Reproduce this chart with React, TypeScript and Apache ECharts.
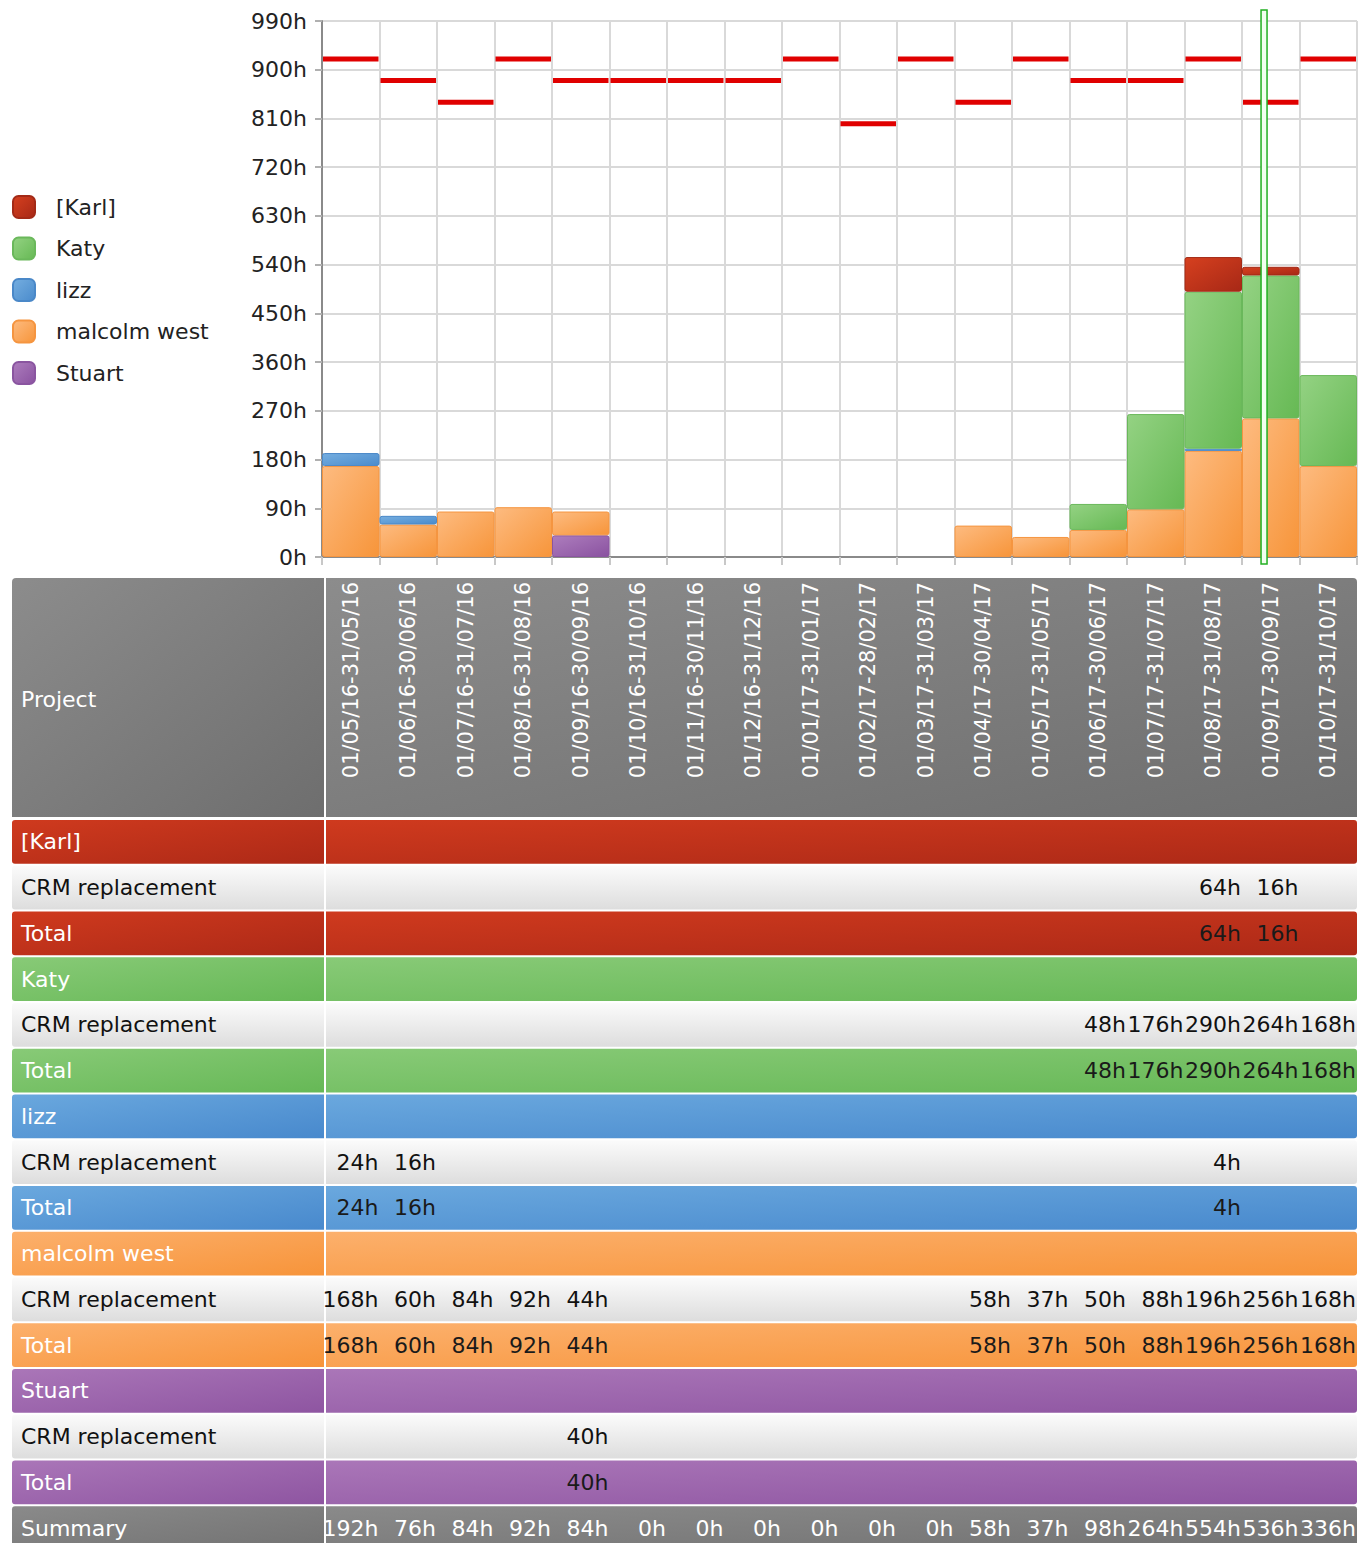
import React, { useEffect, useRef } from "react";
import * as echarts from "echarts";

// ---------- data ----------
const categories: string[] = [
  "01/05/16-31/05/16", "01/06/16-30/06/16", "01/07/16-31/07/16", "01/08/16-31/08/16",
  "01/09/16-30/09/16", "01/10/16-31/10/16", "01/11/16-30/11/16", "01/12/16-31/12/16",
  "01/01/17-31/01/17", "01/02/17-28/02/17", "01/03/17-31/03/17", "01/04/17-30/04/17",
  "01/05/17-31/05/17", "01/06/17-30/06/17", "01/07/17-31/07/17", "01/08/17-31/08/17",
  "01/09/17-30/09/17", "01/10/17-31/10/17",
];

const capacity: number[] = [920, 880, 840, 920, 880, 880, 880, 880, 920, 800, 920, 840, 920, 880, 880, 920, 840, 920];

const karl: (number | null)[] = [null, null, null, null, null, null, null, null, null, null, null, null, null, null, null, 64, 16, null];
const katy: (number | null)[] = [null, null, null, null, null, null, null, null, null, null, null, null, null, 48, 176, 290, 264, 168];
const lizz: (number | null)[] = [24, 16, null, null, null, null, null, null, null, null, null, null, null, null, null, 4, null, null];
const malcolm: (number | null)[] = [168, 60, 84, 92, 44, null, null, null, null, null, null, 58, 37, 50, 88, 196, 256, 168];
const stuart: (number | null)[] = [null, null, null, null, 40, null, null, null, null, null, null, null, null, null, null, null, null, null];

const personNames: string[] = ["[Karl]", "Katy", "lizz", "malcolm west", "Stuart"];
const projectName = "CRM replacement";

const yTicks = { min: 0, max: 990, interval: 90 };

// today marker: 12 Sep 2017 (column 16, 30 days)
const todayColumn = 16;
const todayDay = 12;
const todayMonthDays = 30;

// ---------- styles / layout ----------
const FONT = "DejaVu Sans";
const CHART_H = 1543;
const TABLE_TOP = 819;
const ROW_PITCH = 45.75;

const barColors: Record<string, [string, string, string]> = {
  "[Karl]": ["#d6401f", "#a72816", "#a32a17"],
  Katy: ["#94d283", "#66b954", "#6ab85b"],
  lizz: ["#75aee0", "#4a8bcc", "#4a88c8"],
  "malcolm west": ["#fdbb80", "#f7953a", "#f59540"],
  Stuart: ["#ad7dbd", "#8a52a0", "#8a55a0"],
};
const rowColors: Record<string, [string, string]> = {
  "[Karl]": ["#cf3a1e", "#ad2917"],
  Katy: ["#88ca77", "#66b856"],
  lizz: ["#6aa8de", "#4889cd"],
  "malcolm west": ["#fcb06c", "#f7943a"],
  Stuart: ["#aa76b8", "#8e55a1"],
};

const grad = (a: string, b: string) =>
  new echarts.graphic.LinearGradient(0, 0, 1, 1, [
    { offset: 0, color: a },
    { offset: 1, color: b },
  ]);
const vgrad = (a: string, b: string) =>
  new echarts.graphic.LinearGradient(0, 0, 0, 1, [
    { offset: 0, color: a },
    { offset: 1, color: b },
  ]);

type Row = { label: string; kind: "group" | "item" | "total" | "summary"; person?: string; values?: (number | null)[] };

const App: React.FC = () => {
  const ref = useRef<HTMLDivElement>(null);

  useEffect(() => {
    document.body.style.margin = "0";
    if (!ref.current) return;
    const chart = echarts.init(ref.current, undefined, { renderer: "svg" });

    const personData: Record<string, (number | null)[]> = {
      "[Karl]": karl,
      Katy: katy,
      lizz: lizz,
      "malcolm west": malcolm,
      Stuart: stuart,
    };
    const summary = categories.map((_, i) =>
      personNames.reduce((s, p) => s + (personData[p][i] || 0), 0)
    );

    const rows: Row[] = [];
    personNames.forEach((p) => {
      rows.push({ label: p, kind: "group", person: p });
      rows.push({ label: projectName, kind: "item", person: p, values: personData[p] });
      rows.push({ label: "Total", kind: "total", person: p, values: personData[p] });
    });
    rows.push({ label: "Summary", kind: "summary", values: summary });

    const stackOrder = ["Stuart", "malcolm west", "lizz", "Katy", "[Karl]"];
    const barSeries = stackOrder.map((p) => ({
      name: p,
      type: "bar",
      stack: "total",
      xAxisIndex: 0,
      yAxisIndex: 0,
      barWidth: "100%",
      barCategoryGap: "0%",
      data: personData[p],
      itemStyle: {
        color: grad(barColors[p][0], barColors[p][1]),
        borderColor: barColors[p][2],
        borderWidth: 1,
        borderRadius: 2,
      },
      emphasis: { disabled: true },
    }));

    const tableLeft = 12;
    const labelCellRight = 324;
    const valueCellLeft = 326;
    const tableGridH = CHART_H - TABLE_TOP;
    const visibleRows = tableGridH / ROW_PITCH;

    const option: any = {
      animation: false,
      legend: {
        orient: "vertical",
        left: 12,
        top: 195,
        padding: 0,
        itemWidth: 22,
        itemHeight: 22,
        itemGap: 17.5,
        icon: "roundRect",
        selectedMode: false,
        data: personNames,
        textStyle: { fontSize: 22, fontFamily: FONT, color: "#222", padding: [0, 0, 0, 16] },
      },
      grid: [
        { left: 322, top: 21, width: 1035, height: 536 },
        { left: 322, top: TABLE_TOP, width: 1035, height: tableGridH },
      ],
      xAxis: [
        {
          type: "category",
          gridIndex: 0,
          data: categories,
          boundaryGap: true,
          axisLine: { show: true, lineStyle: { color: "#8a8a8a", width: 2 } },
          axisTick: { show: true, length: 8, interval: 0, lineStyle: { color: "#c8c8c8", width: 2 } },
          axisLabel: {
            interval: 0,
            rotate: 90,
            margin: 25,
            color: "#ffffff",
            fontSize: 21,
            fontFamily: FONT,
          },
          splitLine: { show: true, interval: 0, lineStyle: { color: "#d9d9d9", width: 2 } },
        },
        {
          type: "category",
          gridIndex: 1,
          data: categories,
          boundaryGap: true,
          show: false,
        },
      ],
      yAxis: [
        {
          type: "value",
          gridIndex: 0,
          min: yTicks.min,
          max: yTicks.max,
          interval: yTicks.interval,
          axisLine: { show: true, lineStyle: { color: "#8a8a8a", width: 2 } },
          axisTick: { show: true, length: 7, lineStyle: { color: "#b0b0b0", width: 2 } },
          axisLabel: {
            formatter: "{value}h",
            fontSize: 22,
            fontFamily: FONT,
            color: "#222",
            margin: 15,
          },
          splitLine: { show: true, lineStyle: { color: "#d9d9d9", width: 2 } },
        },
        {
          type: "value",
          gridIndex: 1,
          min: 0,
          max: visibleRows,
          inverse: true,
          show: false,
        },
      ],
      graphic: [
        {
          type: "rect",
          z: -1,
          shape: { x: tableLeft, y: 578, width: labelCellRight - tableLeft, height: 239, r: [4, 0, 0, 0] },
          style: { fill: grad("#8c8c8c", "#6e6e6e") },
        },
        {
          type: "rect",
          z: -1,
          shape: { x: valueCellLeft, y: 578, width: 1357 - valueCellLeft, height: 239, r: [0, 4, 0, 0] },
          style: { fill: grad("#8c8c8c", "#6e6e6e") },
        },
        {
          type: "text",
          z: -1,
          x: 21,
          y: 699,
          style: {
            text: "Project",
            fill: "#ffffff",
            fontSize: 22,
            fontFamily: FONT,
            align: "left",
            textAlign: "left",
            verticalAlign: "middle",
            textVerticalAlign: "middle",
          },
        },
      ],
      series: [
        ...barSeries,
        {
          name: "capacity",
          type: "custom",
          xAxisIndex: 0,
          yAxisIndex: 0,
          data: capacity.map((v, i) => [i, v]),
          renderItem: (params: any, api: any) => {
            const p = api.coord([api.value(0), api.value(1)]);
            const w = api.size([1, 0])[0];
            return {
              type: "line",
              shape: { x1: p[0] - w / 2 + 1, y1: p[1], x2: p[0] + w / 2 - 1, y2: p[1] },
              style: { stroke: "#e00000", lineWidth: 5 },
            };
          },
          z: 3,
        },
        {
          name: "today",
          type: "custom",
          xAxisIndex: 0,
          yAxisIndex: 0,
          clip: false,
          data: [[todayColumn, (todayDay - 0.5) / todayMonthDays]],
          renderItem: (params: any, api: any) => {
            const c = api.coord([api.value(0), 0]);
            const w = api.size([1, 0])[0];
            const x = c[0] - w / 2 + api.value(1) * w;
            const top = params.coordSys.y - 11;
            const bottom = params.coordSys.y + params.coordSys.height + 7;
            return {
              type: "rect",
              shape: { x: x - 3, y: top, width: 6, height: bottom - top },
              style: { fill: "#f2fff0", stroke: "#22b022", lineWidth: 1.5 },
            };
          },
          z: 4,
        },
        {
          name: "table",
          type: "custom",
          xAxisIndex: 1,
          yAxisIndex: 1,
          clip: false,
          data: rows.map((r, i) => [0, i + 0.5]),
          renderItem: (params: any, api: any) => {
            const i = params.dataIndex;
            const row = rows[i];
            const rowCenter = api.value(1);
            const c0 = api.coord([0, rowCenter]);
            const sz = api.size([1, 1]);
            const bandW = sz[0];
            const bandH = Math.abs(sz[1]);
            const top = c0[1] - bandH / 2 + 1;
            const h = bandH - 2;
            const cy = c0[1];
            let fill: any;
            let labelColor = "#ffffff";
            let valueColor = "#1a1a1a";
            if (row.kind === "item") {
              fill = vgrad("#fbfbfb", "#dddddd");
              labelColor = "#111";
              valueColor = "#111";
            } else if (row.kind === "summary") {
              fill = grad("#8a8a8a", "#727272");
              valueColor = "#ffffff";
            } else {
              const rc = rowColors[row.person as string];
              fill = grad(rc[0], rc[1]);
            }
            const children: any[] = [
              {
                type: "rect",
                shape: { x: tableLeft, y: top, width: labelCellRight - tableLeft, height: h, r: [3, 0, 0, 3] },
                style: { fill },
              },
              {
                type: "rect",
                shape: { x: valueCellLeft, y: top, width: params.coordSys.x + params.coordSys.width - valueCellLeft, height: h, r: [0, 3, 3, 0] },
                style: { fill },
              },
              {
                type: "text",
                x: 21,
                y: cy,
                style: {
                  text: row.label,
                  fill: labelColor,
                  fontSize: 22,
                  fontFamily: FONT,
                  align: "left",
                  textAlign: "left",
                  verticalAlign: "middle",
                  textVerticalAlign: "middle",
                },
              },
            ];
            if (row.values) {
              row.values.forEach((v, j) => {
                if (v === null || v === undefined) return;
                const c = api.coord([j, rowCenter]);
                children.push({
                  type: "text",
                  x: c[0] + bandW / 2 - 1,
                  y: cy,
                  style: {
                    text: v + "h",
                    fill: valueColor,
                    fontSize: 22,
                    fontFamily: FONT,
                    align: "right",
                    textAlign: "right",
                    verticalAlign: "middle",
                    textVerticalAlign: "middle",
                  },
                });
              });
            }
            return { type: "group", children };
          },
          z: 1,
        },
      ],
    };

    chart.setOption(option);
    return () => chart.dispose();
  }, []);

  return <div ref={ref} style={{ width: 1370, height: CHART_H }} />;
};

export default App;
